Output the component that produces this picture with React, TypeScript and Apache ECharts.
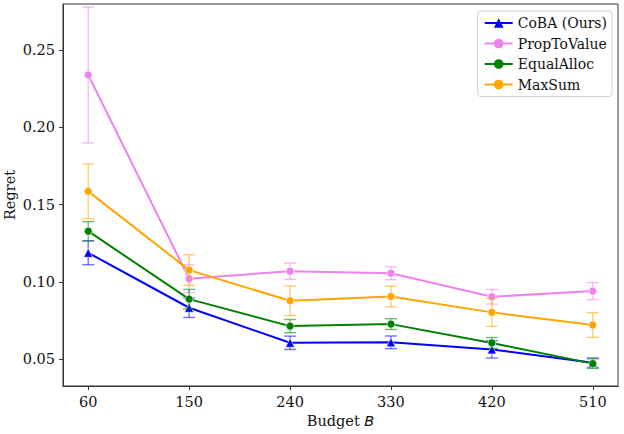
import React, { useEffect, useRef } from "react";
import * as echarts from "echarts";

const budgets = [60, 150, 240, 330, 420, 510];
const xTicks = [60, 150, 240, 330, 420, 510];
const yTicks = [0.05, 0.1, 0.15, 0.2, 0.25];

const cobaMean = [0.1188, 0.0832, 0.0605, 0.0608, 0.0562, 0.0476];
const cobaErr = [0.0077, 0.0063, 0.0043, 0.0041, 0.0056, 0.0031];
const propMean = [0.234, 0.102, 0.1069, 0.1056, 0.0903, 0.094];
const propErr = [0.044, 0.009, 0.0053, 0.0042, 0.0047, 0.0055];
const equalMean = [0.1328, 0.0888, 0.0713, 0.0726, 0.0604, 0.047];
const equalErr = [0.0062, 0.0063, 0.0043, 0.0035, 0.0035, 0.0031];
const maxSumMean = [0.1586, 0.1076, 0.0877, 0.0905, 0.0802, 0.072];
const maxSumErr = [0.0178, 0.0099, 0.0096, 0.0067, 0.0091, 0.008];

const seriesDefs = [
  { name: "CoBA (Ours)", color: "#0000ff", symbol: "triangle", mean: cobaMean, err: cobaErr },
  { name: "PropToValue", color: "#ee82ee", symbol: "circle", mean: propMean, err: propErr },
  { name: "EqualAlloc", color: "#008000", symbol: "circle", mean: equalMean, err: equalErr },
  { name: "MaxSum", color: "#ffa500", symbol: "circle", mean: maxSumMean, err: maxSumErr },
];

const FONT = "DejaVu Serif";
const FS = 14.5;

export default function App() {
  const ref = useRef<HTMLDivElement>(null);
  useEffect(() => {
    if (!ref.current) return;
    const chart = echarts.init(ref.current, null, { renderer: "svg" });
    const series: any[] = [];
    seriesDefs.forEach((s, i) => {
      series.push({
        type: "custom",
        name: s.name + "-err",
        z: 2 + i * 2,
        silent: true,
        encode: { x: 0, y: [1, 2] },
        data: budgets.map((b, j) => [b, s.mean[j] - s.err[j], s.mean[j] + s.err[j]]),
        renderItem: (params: any, api: any) => {
          const x = api.value(0);
          const lo = api.coord([x, api.value(1)]);
          const hi = api.coord([x, api.value(2)]);
          const cap = 6;
          const style = { stroke: s.color, lineWidth: 1.4, opacity: 0.55 };
          return {
            type: "group",
            children: [
              { type: "line", shape: { x1: lo[0], y1: lo[1], x2: hi[0], y2: hi[1] }, style },
              { type: "line", shape: { x1: lo[0] - cap, y1: lo[1], x2: lo[0] + cap, y2: lo[1] }, style },
              { type: "line", shape: { x1: hi[0] - cap, y1: hi[1], x2: hi[0] + cap, y2: hi[1] }, style },
            ],
          };
        },
      });
      series.push({
        type: "line",
        name: s.name,
        z: 3 + i * 2,
        data: budgets.map((b, j) => [b, s.mean[j]]),
        symbol: s.symbol,
        symbolSize: s.symbol === "triangle" ? 9 : 8,
        showSymbol: true,
        lineStyle: { color: s.color, width: 2 },
        itemStyle: { color: s.color, borderColor: "#ffffff", borderWidth: 0.6 },
      });
    });

    chart.setOption({
      animation: false,
      grid: {
        left: 63,
        right: 6,
        top: 4,
        bottom: 48,
        containLabel: false,
        outerBoundsMode: "none",
        show: true,
        borderColor: "#333",
        borderWidth: 1,
        backgroundColor: "#fff",
      },
      legend: {
        orient: "vertical",
        right: 12,
        top: 11,
        padding: [5, 5, 5, 6],
        itemGap: 6.5,
        itemWidth: 28,
        itemHeight: 12,
        align: "left",
        borderColor: "#d0d0d0",
        borderWidth: 1,
        borderRadius: 3,
        backgroundColor: "rgba(255,255,255,0.8)",
        data: seriesDefs.map((s) => ({
          name: s.name,
          itemStyle: { color: s.color, borderWidth: 0 },
          lineStyle: { color: s.color, width: 2, type: "solid" },
        })),
        textStyle: { fontFamily: FONT, fontSize: 14, color: "#111", lineHeight: 14 },
      },
      xAxis: {
        type: "value",
        min: 37.5,
        max: 532.5,
        name: "Budget {i|B}",
        nameLocation: "middle",
        nameGap: 27,
        nameMoveOverlap: false,
        nameTextStyle: {
          fontFamily: FONT,
          fontSize: FS,
          color: "#111",
          rich: { i: { fontFamily: "DejaVu Sans", fontStyle: "italic", fontSize: FS, color: "#111" } },
        },
        axisLine: { show: true, lineStyle: { color: "#333", width: 1 } },
        axisTick: { show: true, length: 4, lineStyle: { color: "#333" }, customValues: xTicks },
        axisLabel: {
          customValues: xTicks,
          fontFamily: FONT,
          fontSize: FS,
          color: "#111",
          margin: 8,
        },
        splitLine: { show: false },
      },
      yAxis: {
        type: "value",
        min: 0.0325,
        max: 0.28,
        name: "Regret",
        nameLocation: "middle",
        nameGap: 46,
        nameMoveOverlap: false,
        nameTextStyle: { fontFamily: FONT, fontSize: FS, color: "#111" },
        axisLine: { show: true, lineStyle: { color: "#333", width: 1 } },
        axisTick: { show: true, length: 4, lineStyle: { color: "#333" }, customValues: yTicks },
        axisLabel: {
          customValues: yTicks,
          fontFamily: FONT,
          fontSize: FS,
          color: "#111",
          margin: 8,
          formatter: (v: number) => v.toFixed(2),
        },
        splitLine: { show: false },
      },
      series,
    });
    return () => chart.dispose();
  }, []);
  return (
    <div
      ref={ref}
      style={{ position: "fixed", left: 0, top: 0, width: 624, height: 434, background: "#fff" }}
    />
  );
}
